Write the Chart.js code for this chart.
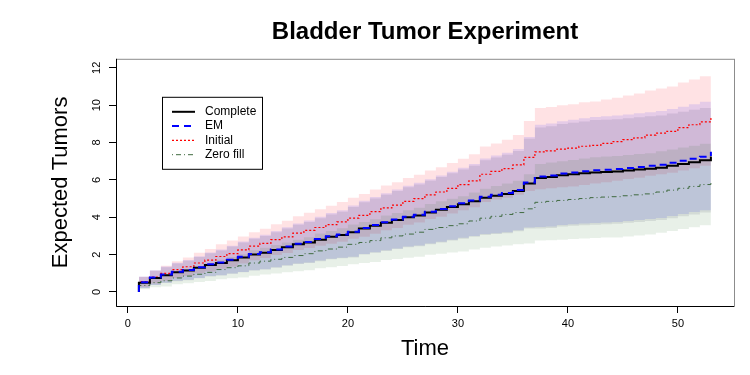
<!DOCTYPE html>
<html>
<head>
<meta charset="utf-8">
<script src="https://cdn.jsdelivr.net/npm/chart.js@4.4.1/dist/chart.umd.min.js"></script>
<style>
  html, body { margin: 0; padding: 0; background: #fff; }
  #wrap { width: 750px; height: 375px; }
</style>
</head>
<body>
<div id="wrap"><canvas id="myChart" width="750" height="375"></canvas></div>
<script>
const times = [1,2,3,4,5,6,7,8,9,10,11,12,13,14,15,16,17,18,19,20,21,22,23,24,25,26,27,
  28,29,30,31,32,33,34,35,36,37,38,39,40,41,42,43,44,45,46,47,48,49,50,51,52,53];
const startLevel = 0;

const complete = [0.50,0.75,0.90,1.05,1.15,1.30,1.45,1.55,1.70,1.85,
  2.00,2.10,2.25,2.40,2.55,2.65,2.80,2.95,3.05,3.20,
  3.40,3.55,3.70,3.85,4.00,4.10,4.25,4.40,4.55,4.70,
  4.85,5.05,5.15,5.25,5.40,5.80,6.10,6.15,6.25,6.30,
  6.35,6.40,6.42,6.45,6.50,6.55,6.60,6.65,6.75,6.85,
  6.95,7.05,7.25];
const completeLow = [0.20,0.37,0.48,0.58,0.63,0.73,0.83,0.88,0.97,1.05,
  1.15,1.20,1.30,1.40,1.50,1.55,1.65,1.75,1.80,1.85,
  2.00,2.10,2.20,2.30,2.40,2.45,2.55,2.65,2.75,2.85,
  2.95,3.05,3.10,3.15,3.25,3.40,3.40,3.43,3.51,3.54,
  3.57,3.60,3.62,3.65,3.70,3.75,3.80,3.85,3.95,4.05,
  4.15,4.25,4.40];
const completeHigh = [0.80,1.13,1.32,1.52,1.67,1.87,2.07,2.22,2.43,2.65,
  2.85,3.00,3.20,3.40,3.60,3.75,3.95,4.15,4.30,4.55,
  4.80,5.00,5.20,5.40,5.60,5.75,5.95,6.15,6.35,6.55,
  6.75,7.05,7.20,7.35,7.55,8.20,8.80,8.87,8.99,9.06,
  9.13,9.20,9.22,9.25,9.30,9.35,9.40,9.45,9.55,9.65,
  9.75,9.85,10.10];

const em = [0.52,0.77,0.93,1.08,1.18,1.33,1.48,1.58,1.73,1.88,
  2.03,2.13,2.28,2.43,2.58,2.68,2.83,2.98,3.08,3.23,
  3.43,3.58,3.73,3.88,4.03,4.14,4.29,4.44,4.59,4.75,
  4.90,5.10,5.20,5.30,5.46,5.86,6.18,6.24,6.34,6.40,
  6.46,6.51,6.54,6.58,6.63,6.69,6.75,6.81,6.92,7.02,
  7.13,7.24,7.50];
const emLow = [0.21,0.38,0.50,0.60,0.65,0.75,0.85,0.90,0.99,1.07,
  1.17,1.22,1.32,1.43,1.53,1.58,1.68,1.78,1.83,1.88,
  2.03,2.13,2.23,2.33,2.43,2.49,2.59,2.69,2.79,2.90,
  3.00,3.10,3.15,3.20,3.30,3.45,3.48,3.51,3.59,3.63,
  3.66,3.69,3.72,3.75,3.80,3.85,3.91,3.96,4.07,4.17,
  4.28,4.38,4.65];
const emHigh = [0.83,1.16,1.36,1.56,1.71,1.91,2.11,2.27,2.48,2.70,
  2.90,3.06,3.26,3.46,3.67,3.82,4.02,4.23,4.38,4.63,
  4.88,5.08,5.28,5.48,5.69,5.84,6.04,6.24,6.44,6.65,
  6.85,7.15,7.30,7.45,7.65,8.30,8.95,9.02,9.14,9.22,
  9.30,9.37,9.40,9.44,9.50,9.56,9.62,9.68,9.80,9.92,
  10.05,10.18,10.40];

const initial = [0.55,0.80,1.00,1.20,1.35,1.55,1.70,1.90,2.05,2.25,
  2.45,2.60,2.80,2.95,3.15,3.30,3.45,3.60,3.75,3.95,
  4.10,4.30,4.50,4.65,4.85,5.00,5.20,5.35,5.55,5.75,
  5.95,6.30,6.45,6.60,6.80,7.20,7.50,7.55,7.65,7.70,
  7.80,7.85,7.95,8.05,8.15,8.25,8.40,8.50,8.60,8.80,
  8.95,9.10,9.35];
const initialLow = [0.28,0.45,0.60,0.75,0.85,1.00,1.10,1.25,1.35,1.53,
  1.70,1.82,1.98,2.09,2.25,2.36,2.47,2.58,2.69,2.85,
  2.95,3.12,3.30,3.43,3.60,3.72,3.90,4.03,4.20,4.37,
  4.53,4.82,4.95,5.05,5.20,5.40,5.50,5.55,5.60,5.65,
  5.72,5.80,5.87,5.95,6.05,6.12,6.22,6.30,6.38,6.50,
  6.62,6.75,6.90];
const initialHigh = [0.82,1.15,1.40,1.65,1.85,2.10,2.30,2.55,2.75,2.97,
  3.20,3.38,3.62,3.81,4.05,4.24,4.43,4.62,4.81,5.05,
  5.25,5.48,5.70,5.87,6.10,6.28,6.50,6.67,6.90,7.13,
  7.37,7.78,7.95,8.15,8.40,9.15,9.85,9.90,10.00,10.05,
  10.15,10.20,10.30,10.40,10.51,10.62,10.78,10.89,11.00,11.21,
  11.37,11.54,11.80];

const zeroFill = [0.35,0.50,0.60,0.75,0.85,0.95,1.05,1.20,1.30,1.40,
  1.55,1.65,1.75,1.85,1.95,2.05,2.20,2.30,2.40,2.55,
  2.65,2.75,2.90,3.00,3.10,3.20,3.35,3.45,3.55,3.65,
  3.80,3.95,4.05,4.15,4.25,4.45,4.80,4.85,4.90,4.95,
  5.00,5.05,5.08,5.10,5.15,5.20,5.25,5.35,5.45,5.55,
  5.65,5.75,5.90];
const zeroLow = [0.15,0.25,0.30,0.41,0.47,0.53,0.59,0.68,0.73,0.78,
  0.87,0.93,0.99,1.05,1.11,1.17,1.27,1.33,1.39,1.49,
  1.55,1.61,1.71,1.77,1.83,1.89,1.99,2.05,2.11,2.17,
  2.27,2.37,2.43,2.49,2.55,2.60,2.75,2.77,2.80,2.83,
  2.86,2.89,2.91,2.92,2.97,3.02,3.07,3.17,3.27,3.37,
  3.47,3.57,3.75];
const zeroHigh = [0.55,0.75,0.90,1.09,1.23,1.37,1.51,1.72,1.87,2.02,
  2.23,2.37,2.51,2.65,2.79,2.93,3.13,3.27,3.41,3.61,
  3.75,3.89,4.09,4.23,4.37,4.51,4.71,4.85,4.99,5.13,
  5.33,5.53,5.67,5.81,5.95,6.30,6.85,6.93,7.00,7.07,
  7.14,7.21,7.25,7.28,7.33,7.38,7.43,7.53,7.63,7.73,
  7.83,7.93,8.05];

const xTicks = [0, 10, 20, 30, 40, 50];
const yTicks = [0, 2, 4, 6, 8, 10, 12];
const legendLabels = ["Complete", "EM", "Initial", "Zero fill"];

const FONT = "'Liberation Sans', Arial, Helvetica, sans-serif";

// step line: starts at 0 at the first time, then jumps
const toLine = (vals) => [{ x: times[0], y: startLevel }].concat(times.map((t, i) => ({ x: t, y: vals[i] })));
const toPts = (vals) => times.map((t, i) => ({ x: t, y: vals[i] }));

const band = (low, high, color, order) => [
  { data: toPts(low), borderWidth: 0, borderColor: "transparent", pointRadius: 0,
    stepped: true, fill: false, order: order },
  { data: toPts(high), borderWidth: 0, borderColor: "transparent", pointRadius: 0,
    stepped: true, fill: "-1", backgroundColor: color, order: order },
];

const lineSet = (label, vals, color, width, dash, order) => ({
  label, data: toLine(vals), borderColor: color, borderWidth: width, borderDash: dash,
  pointRadius: 0, stepped: true, fill: false, order: order,
});

const datasets = [
  ...band(initialLow, initialHigh, "rgba(255,30,50,0.13)", 7),
  ...band(completeLow, completeHigh, "rgba(30,30,60,0.10)", 6),
  ...band(emLow, emHigh, "rgba(0,0,255,0.10)", 5),
  ...band(zeroLow, zeroHigh, "rgba(0,90,0,0.09)", 4),
  lineSet(legendLabels[3], zeroFill, "#3f6a3f", 1, [1, 3, 5, 3], 3),
  lineSet(legendLabels[2], initial, "#ff0000", 1.2, [2, 2], 2),
  lineSet(legendLabels[0], complete, "#000000", 2, [], 1),
  lineSet(legendLabels[1], em, "#0000ff", 2, [7, 5], 0),
];

// gray frame + legend box inside the plot
const framePlugin = {
  id: "frame",
  afterDatasetsDraw(chart) {
    const { ctx, chartArea: a } = chart;
    ctx.save();
    ctx.strokeStyle = "#8c8c8c";
    ctx.lineWidth = 1;
    ctx.strokeRect(a.left + 0.5, a.top + 0.5, a.right - a.left, a.bottom - a.top);
    ctx.strokeStyle = "#000";
    ctx.beginPath();
    ctx.moveTo(a.left + 0.5, a.top);
    ctx.lineTo(a.left + 0.5, a.bottom + 0.5);
    ctx.lineTo(a.right, a.bottom + 0.5);
    ctx.stroke();

    const bx = a.left + 46, by = a.top + 38, bw = 100, bh = 72;
    ctx.fillStyle = "#fff";
    ctx.fillRect(bx, by, bw, bh);
    ctx.strokeStyle = "#000";
    ctx.strokeRect(bx + 0.5, by + 0.5, bw, bh);
    ctx.font = "12px " + FONT;
    ctx.textBaseline = "middle";
    legendLabels.forEach((lab, i) => {
      const ds = chart.data.datasets.find((d) => d.label === lab);
      const y = by + 15 + i * 14.3;
      ctx.strokeStyle = ds.borderColor;
      ctx.lineWidth = ds.borderWidth;
      ctx.setLineDash(ds.borderDash || []);
      ctx.beginPath();
      ctx.moveTo(bx + 10, y);
      ctx.lineTo(bx + 33, y);
      ctx.stroke();
      ctx.setLineDash([]);
      ctx.fillStyle = "#000";
      ctx.fillText(lab, bx + 43, y);
    });
    ctx.restore();
  },
};

const canvas = document.getElementById("myChart");
const myChart = new Chart(canvas, {
  type: "line",
  data: { datasets },
  plugins: [framePlugin],
  options: {
    responsive: false,
    animation: false,
    events: [],
    layout: { padding: { left: 0, right: 16, top: 0, bottom: 0 } },
    plugins: {
      legend: { display: false },
      tooltip: { enabled: false },
      filler: { propagate: false },
      title: {
        display: true,
        text: "Bladder Tumor Experiment",
        fullSize: false,
        color: "#000",
        font: { family: FONT, size: 24, weight: "bold" },
        padding: { top: 18, bottom: 12 },
      },
    },
    scales: {
      x: {
        type: "linear",
        min: -1.08,
        max: 55.1,
        afterFit: (s) => { s.height = 69; },
        afterBuildTicks: (s) => { s.ticks = xTicks.map((v) => ({ value: v })); },
        grid: { drawOnChartArea: false, drawTicks: true, tickLength: 7, color: "#000" },
        border: { display: false },
        ticks: { color: "#000", font: { family: FONT, size: 11 }, padding: 4, maxRotation: 0, autoSkip: false },
        title: { display: true, text: "Time", color: "#000", font: { family: FONT, size: 22 }, padding: { top: 0, bottom: 13 } },
      },
      y: {
        type: "linear",
        min: -0.75,
        max: 12.48,
        afterFit: (s) => { s.width = 116; },
        afterBuildTicks: (s) => { s.ticks = yTicks.map((v) => ({ value: v })); },
        grid: { drawOnChartArea: false, drawTicks: true, tickLength: 7, color: "#000" },
        border: { display: false },
        ticks: { color: "#000", font: { family: FONT, size: 11 }, padding: 6, minRotation: 90, maxRotation: 90,
          crossAlign: "center", autoSkip: false },
        title: { display: true, text: "Expected Tumors", color: "#000", font: { family: FONT, size: 22 }, padding: { top: 48, bottom: 0 } },
      },
    },
  },
});
</script>
</body>
</html>
